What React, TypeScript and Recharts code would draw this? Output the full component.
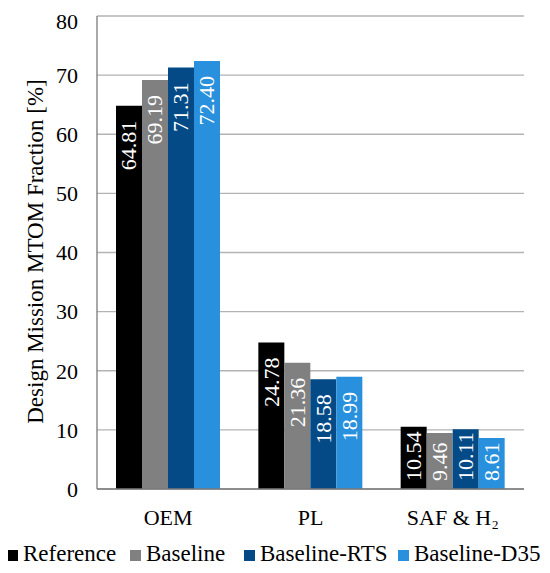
import React from "react";
import {
  BarChart,
  Bar,
  XAxis,
  YAxis,
  CartesianGrid,
  Legend,
  LabelList,
} from "recharts";

const categories = ["OEM", "PL", "SAF & H₂"];
const referenceValues = [64.81, 24.78, 10.54];
const baselineValues = [69.19, 21.36, 9.46];
const baselineRtsValues = [71.31, 18.58, 10.11];
const baselineD35Values = [72.4, 18.99, 8.61];
const yTicks = [0, 10, 20, 30, 40, 50, 60, 70, 80];

const seriesKeys = ["reference", "baseline", "baselineRts", "baselineD35"];
const seriesNames = ["Reference", "Baseline", "Baseline-RTS", "Baseline-D35"];
const seriesColors = ["#000000", "#808080", "#034a86", "#2890dc"];

const data = categories.map((cat, i) => ({
  cat,
  reference: referenceValues[i],
  baseline: baselineValues[i],
  baselineRts: baselineRtsValues[i],
  baselineD35: baselineD35Values[i],
}));

const FONT = '"Liberation Serif", "Times New Roman", serif';
const W = 542;
const H = 565;
const legendLefts = [-1, 122, 236, 390];

const ValueLabel = (props: any) => {
  const vb = props.viewBox || {};
  const x = props.x ?? vb.x;
  const y = props.y ?? vb.y;
  const width = props.width ?? vb.width;
  const height = props.height ?? vb.height;
  const value = props.value;
  if (value == null || x == null) return null;
  const txt = Number(value).toFixed(2);
  const fs = 22;
  let len = 0;
  for (const ch of txt) len += ch === "." ? 0.25 * fs : 0.5 * fs;
  const top = y;
  const bottom = y + height;
  const cx = x + width / 2;
  let py = top + 15;
  let anchor = "end";
  if (top + 15 + len > bottom - 8) {
    py = bottom - 8;
    anchor = "start";
  }
  return (
    <text
      x={cx}
      y={py}
      dy="0.33em"
      transform={`rotate(-90, ${cx}, ${py})`}
      textAnchor={anchor}
      fill="#ffffff"
      fontSize={fs}
      fontFamily={FONT}
    >
      {txt}
    </text>
  );
};

const YLabel = (props: any) => {
  const vb = props.viewBox || {};
  const cy = (vb.y ?? 8) + (vb.height ?? 473) / 2 - 1;
  const x = 35;
  return (
    <text
      x={x}
      y={cy}
      transform={`rotate(-90, ${x}, ${cy})`}
      textAnchor="middle"
      fontSize={23}
      fontFamily={FONT}
      fill="#000000"
    >
      Design Mission MTOM Fraction [%]
    </text>
  );
};

const LegendContent = () => (
  <div
    style={{
      position: "relative",
      height: 44,
      fontFamily: FONT,
      fontSize: 23,
      lineHeight: "26px",
      color: "#000",
      whiteSpace: "nowrap",
    }}
  >
    {seriesNames.map((n, i) => (
      <span
        key={n}
        style={{ position: "absolute", left: legendLefts[i], top: 12 }}
      >
        <span
          style={{
            display: "inline-block",
            width: 11,
            height: 11,
            background: seriesColors[i],
            marginRight: 5,
          }}
        />
        {n}
      </span>
    ))}
  </div>
);

export default function App() {
  return (
    <div style={{ width: W, height: H }}>
      <BarChart
        width={W}
        height={H}
        data={data}
        margin={{ top: 8, right: 26, bottom: 0, left: 29 }}
        barGap={0}
      >
        <CartesianGrid vertical={false} stroke="#b3b3b3" strokeWidth={1.3} />
        <XAxis
          dataKey="cat"
          tickLine={false}
          tickSize={0}
          tickMargin={20}
          height={40}
          axisLine={{ stroke: "#7a7a7a", strokeWidth: 1.3 }}
          tick={{ fill: "#000", fontSize: 22, fontFamily: FONT }}
        />
        <XAxis
          xAxisId="top"
          dataKey="cat"
          orientation="top"
          height={0}
          tick={false}
          tickLine={false}
          axisLine={{ stroke: "#7a7a7a", strokeWidth: 1.3 }}
        />
        <YAxis
          domain={[0, 80]}
          ticks={yTicks}
          width={60}
          tickLine={false}
          tickSize={0}
          tickMargin={19}
          axisLine={{ stroke: "#7a7a7a", strokeWidth: 1.3 }}
          tick={{ fill: "#000", fontSize: 22, fontFamily: FONT }}
          label={<YLabel />}
        />
        <YAxis
          yAxisId="right"
          orientation="right"
          domain={[0, 80]}
          ticks={yTicks}
          width={0}
          tick={false}
          tickLine={false}
          axisLine={{ stroke: "#7a7a7a", strokeWidth: 1.3 }}
        />
        <Legend
          verticalAlign="bottom"
          height={44}
          content={<LegendContent />}
          wrapperStyle={{ left: 0, width: W }}
        />
        {seriesKeys.map((k, i) => (
          <Bar
            key={k}
            dataKey={k}
            name={seriesNames[i]}
            fill={seriesColors[i]}
            barSize={26}
            isAnimationActive={false}
          >
            <LabelList dataKey={k} content={<ValueLabel />} />
          </Bar>
        ))}
      </BarChart>
    </div>
  );
}
